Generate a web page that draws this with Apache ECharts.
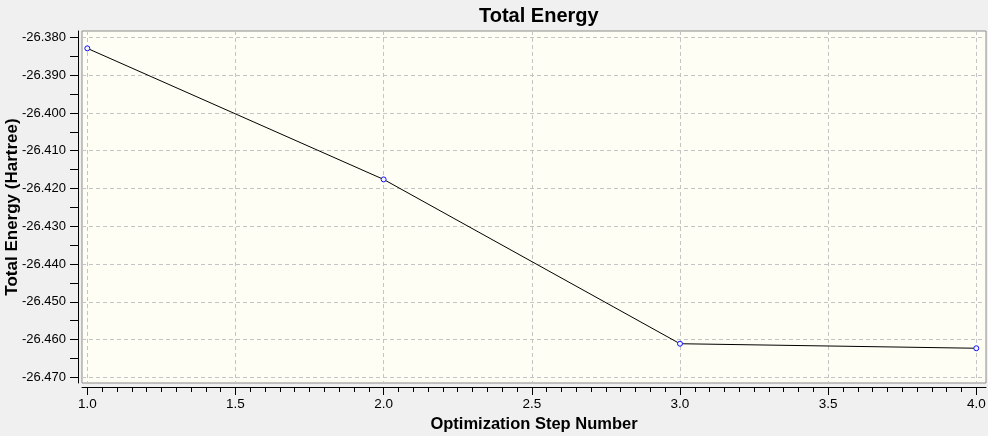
<!DOCTYPE html>
<html>
<head>
<meta charset="utf-8">
<script src="https://cdn.jsdelivr.net/npm/echarts@6/dist/echarts.min.js"></script>
<style>
  html, body { margin: 0; padding: 0; background: #f0f0f0; }
  #chart { width: 988px; height: 436px; }
</style>
</head>
<body>
<div id="chart"></div>
<script>
// optimisation steps and energies (Hartree)
const steps = [1, 2, 3, 4];
const energies = [-26.3829, -26.4176, -26.4611, -26.4623];

// tick values
const yMajor = [-26.47, -26.46, -26.45, -26.44, -26.43, -26.42, -26.41, -26.40, -26.39, -26.38];
const yMinor = [-26.47, -26.465, -26.46, -26.455, -26.45, -26.445, -26.44, -26.435, -26.43, -26.425,
    -26.42, -26.415, -26.41, -26.405, -26.40, -26.395, -26.39, -26.385, -26.38];
const xMajor = [1.0, 1.5, 2.0, 2.5, 3.0, 3.5, 4.0];
const xMinor = [];
for (let i = 0; i <= 60; i++) xMinor.push(+(1 + i * 0.05).toFixed(2));

// axis extents (plot box runs a little past the labelled ticks)
const xMin = 0.9821, xMax = 4.0327;
const yMin = -26.4715, yMax = -26.3783;

const font = 'Liberation Sans, Arial, sans-serif';
const chart = echarts.init(document.getElementById('chart'));

const gridLine = { show: true, lineStyle: { color: '#c4c4c4', type: [4, 3], width: 1 } };

chart.setOption({
    backgroundColor: '#f0f0f0',
    animation: false,
    title: {
        text: 'Total Energy',
        left: 474,
        top: 1,
        textStyle: { fontFamily: font, fontSize: 20, fontWeight: 'bold', color: '#000' }
    },
    grid: {
        left: 82, right: 2, top: 31, bottom: 53,
        outerBoundsMode: 'none',
        containLabel: false,
        show: true,
        backgroundColor: '#fefef4',
        borderColor: '#8c8c8c',
        borderWidth: 1
    },
    xAxis: [
        {
            type: 'value', min: xMin, max: xMax, offset: 4,
            name: 'Optimization Step Number',
            nameLocation: 'middle', nameGap: 29, nameMoveOverlap: false,
            nameTextStyle: { fontFamily: font, fontSize: 16.5, fontWeight: 'bold', color: '#000' },
            axisLine: { show: true, lineStyle: { color: '#000', width: 1 } },
            axisTick: { show: true, customValues: xMajor, length: 8, lineStyle: { color: '#000' } },
            axisLabel: {
                customValues: xMajor, margin: 10,
                fontFamily: font, fontSize: 13.5, color: '#000',
                formatter: v => v.toFixed(1)
            },
            splitLine: gridLine
        },
        {
            type: 'value', min: xMin, max: xMax, offset: 4, position: 'bottom',
            axisLine: { show: false },
            axisTick: { show: true, customValues: xMinor, length: 5, lineStyle: { color: '#000' } },
            axisLabel: { show: false },
            splitLine: { show: false }
        }
    ],
    yAxis: [
        {
            type: 'value', min: yMin, max: yMax, offset: 4,
            name: 'Total Energy (Hartree)',
            nameLocation: 'middle', nameGap: 57, nameMoveOverlap: false,
            nameTextStyle: { fontFamily: font, fontSize: 17, fontWeight: 'bold', color: '#000' },
            axisLine: { show: true, lineStyle: { color: '#000', width: 1 } },
            axisTick: { show: true, customValues: yMajor, length: 8, lineStyle: { color: '#000' } },
            axisLabel: {
                customValues: yMajor, margin: 12,
                fontFamily: font, fontSize: 13, color: '#000',
                formatter: v => v.toFixed(3)
            },
            splitLine: gridLine
        },
        {
            type: 'value', min: yMin, max: yMax, offset: 4, position: 'left',
            axisLine: { show: false },
            axisTick: { show: true, customValues: yMinor, length: 8, lineStyle: { color: '#000' } },
            axisLabel: { show: false },
            splitLine: { show: false }
        }
    ],
    series: [{
        type: 'line',
        xAxisIndex: 0,
        yAxisIndex: 0,
        data: steps.map((s, i) => [s, energies[i]]),
        symbol: 'circle',
        symbolSize: 5,
        showAllSymbol: true,
        lineStyle: { color: '#000', width: 1 },
        itemStyle: { color: '#f4f4ff', borderColor: '#1010ff', borderWidth: 1 }
    }]
});
</script>
</body>
</html>
